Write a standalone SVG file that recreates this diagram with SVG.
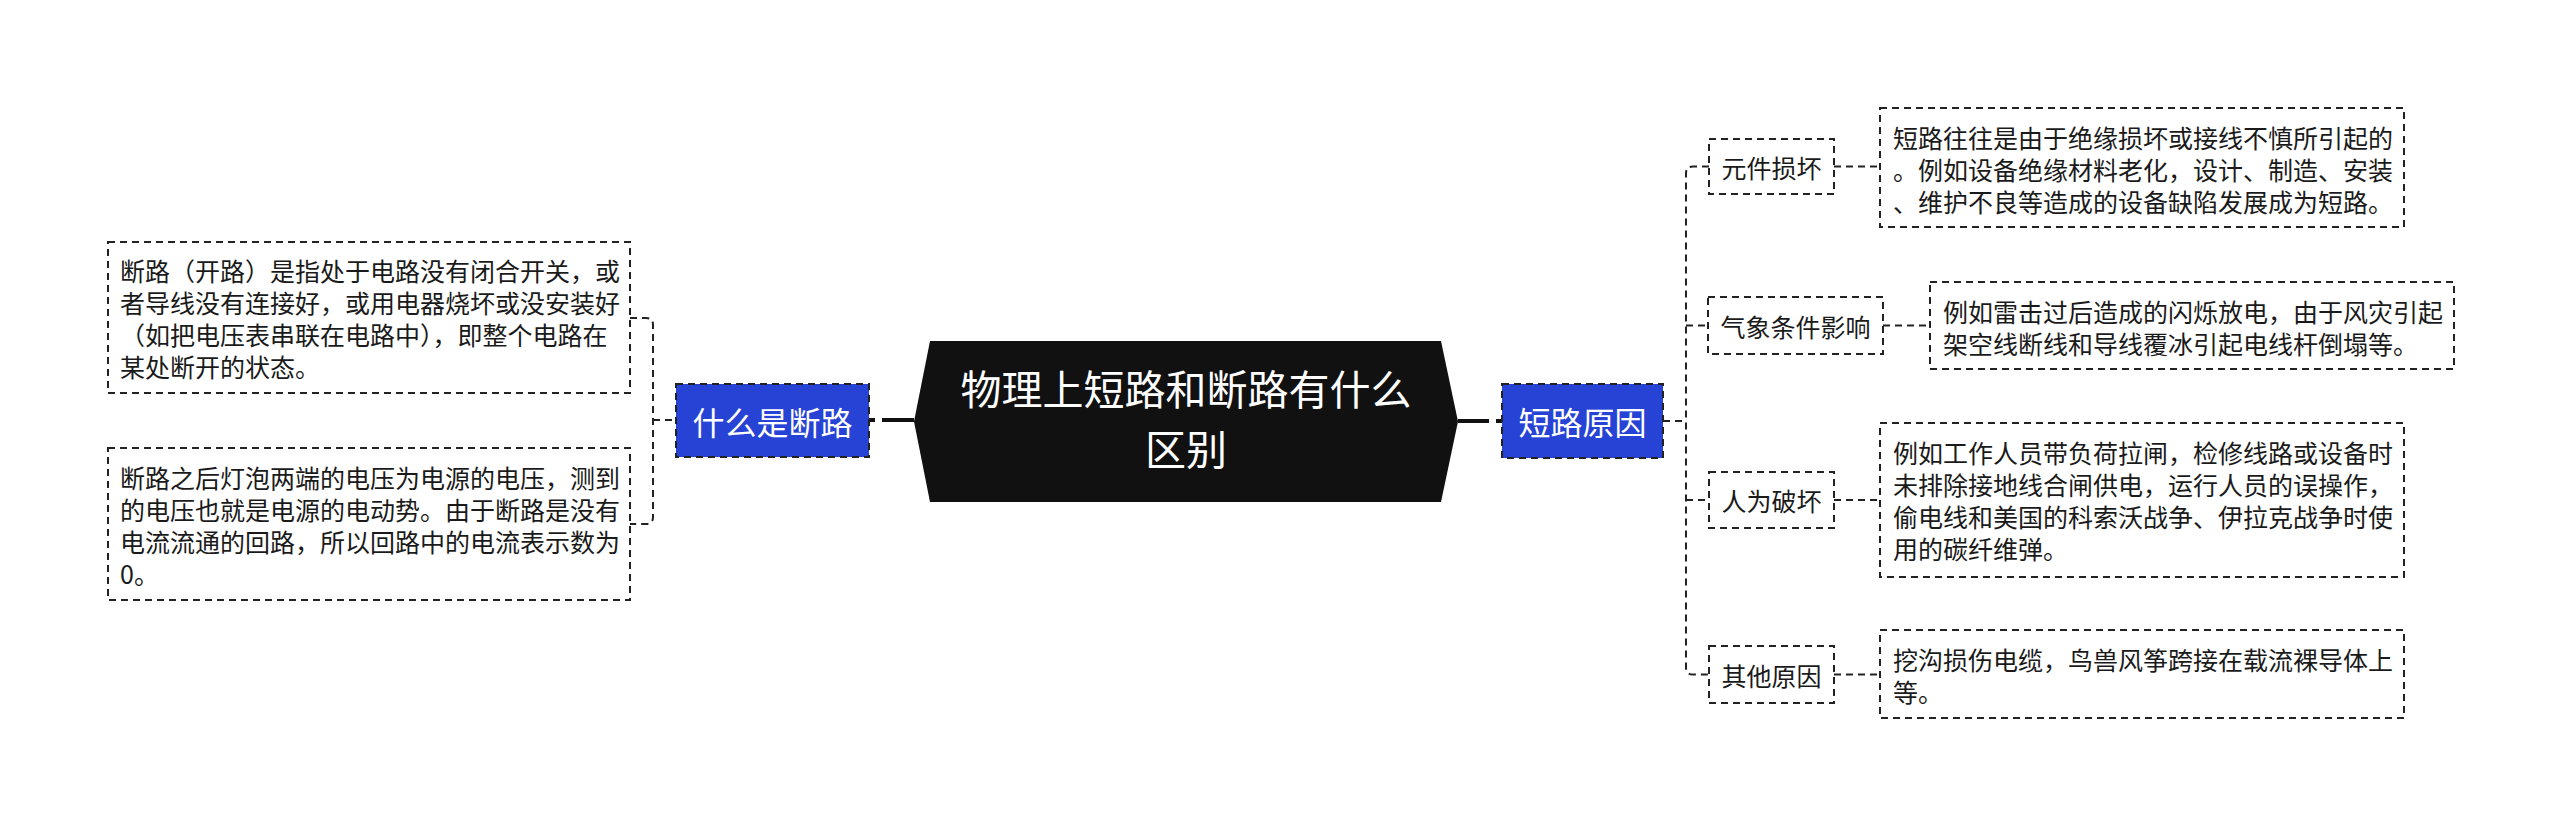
<svg xmlns="http://www.w3.org/2000/svg" width="2560" height="826" viewBox="0 0 2560 826">
<style>
.txt{font-family:"Noto Sans CJK SC","Noto Sans",sans-serif;font-size:25px;fill:#1a1a1a;dominant-baseline:central}
.box{fill:#fff;stroke:#222;stroke-width:2;stroke-dasharray:7 5}
.blue{fill:#2743d6;stroke:#222;stroke-width:2;stroke-dasharray:7 5}
.wt{font-family:"Noto Sans CJK SC","Noto Sans",sans-serif;font-size:32px;fill:#fff;dominant-baseline:central;text-anchor:middle}
.title{font-family:"Noto Sans CJK SC","Noto Sans",sans-serif;font-size:41px;fill:#fff;text-anchor:middle}
.conn{fill:none;stroke:#222;stroke-width:2;stroke-dasharray:7 5}
.thick{fill:none;stroke:#111;stroke-width:4}
.mid{text-anchor:middle}
</style>
<rect width="2560" height="826" fill="#fff"/>
<g id="connectors">
<path class="conn" d="M630 318 H646 Q653 318 653 325 V517 Q653 524 646 524 H630"/>
<path class="conn" d="M653 420 H676"/>
<path class="thick" d="M869 420 H914" stroke-dasharray="6 7 40"/>
<path class="thick" d="M1502 421 H1458" stroke-dasharray="6 7 40"/>
<path class="conn" d="M1663 421 H1686"/>
<path class="conn" d="M1709 166.5 H1693 Q1686 166.5 1686 173.5 V667.5 Q1686 674.5 1693 674.5 H1708"/>
<path class="conn" d="M1686 325.5 H1708"/>
<path class="conn" d="M1686 500 H1708"/>
<path class="conn" d="M1834 166.5 H1880"/>
<path class="conn" d="M1883 325.5 H1930"/>
<path class="conn" d="M1834 500 H1880"/>
<path class="conn" d="M1834 674.5 H1880"/>
</g>
<g id="root">
<polygon points="914,421.5 930,341 1441,341 1458,421.5 1441,502 930,502" fill="#111"/>
<text class="title" x="1186" y="405">物理上短路和断路有什么</text>
<text class="title" x="1186" y="465">区别</text>
</g>
<g id="n-duanlu">
<rect class="blue" x="676" y="384" width="193" height="73"/>
<text class="wt" x="772.5" y="420.5">什么是断路</text>
</g>
<g id="n-duanlu-1">
<rect class="box" x="108" y="242" width="522" height="151"/>
<text class="txt" x="120" y="270">断路（开路）是指处于电路没有闭合开关，或</text>
<text class="txt" x="120" y="302">者导线没有连接好，或用电器烧坏或没安装好</text>
<text class="txt" x="120" y="334">（如把电压表串联在电路中），即整个电路在</text>
<text class="txt" x="120" y="366">某处断开的状态。</text>
</g>
<g id="n-duanlu-2">
<rect class="box" x="108" y="448" width="522" height="152"/>
<text class="txt" x="120" y="477">断路之后灯泡两端的电压为电源的电压，测到</text>
<text class="txt" x="120" y="509">的电压也就是电源的电动势。由于断路是没有</text>
<text class="txt" x="120" y="541">电流流通的回路，所以回路中的电流表示数为</text>
<text class="txt" x="120" y="573">0。</text>
</g>
<g id="n-duanluyuanyin">
<rect class="blue" x="1502" y="384" width="161" height="74"/>
<text class="wt" x="1582.5" y="421">短路原因</text>
</g>
<g id="n-yuanjian">
<rect class="box" x="1709" y="139" width="125" height="55"/>
<text class="txt mid" x="1771.5" y="166.5">元件损坏</text>
</g>
<g id="n-yuanjian-t">
<rect class="box" x="1880" y="108" width="524" height="119"/>
<text class="txt" x="1893" y="137">短路往往是由于绝缘损坏或接线不慎所引起的</text>
<text class="txt" x="1893" y="169">。例如设备绝缘材料老化，设计、制造、安装</text>
<text class="txt" x="1893" y="201">、维护不良等造成的设备缺陷发展成为短路。</text>
</g>
<g id="n-qixiang">
<rect class="box" x="1708" y="297" width="175" height="57"/>
<text class="txt mid" x="1795.5" y="325.5">气象条件影响</text>
</g>
<g id="n-qixiang-t">
<rect class="box" x="1930" y="282" width="524" height="87"/>
<text class="txt" x="1943" y="311">例如雷击过后造成的闪烁放电，由于风灾引起</text>
<text class="txt" x="1943" y="343">架空线断线和导线覆冰引起电线杆倒塌等。</text>
</g>
<g id="n-renwei">
<rect class="box" x="1709" y="472" width="125" height="56"/>
<text class="txt mid" x="1771.5" y="500">人为破坏</text>
</g>
<g id="n-renwei-t">
<rect class="box" x="1880" y="423" width="524" height="154"/>
<text class="txt" x="1893" y="452">例如工作人员带负荷拉闸，检修线路或设备时</text>
<text class="txt" x="1893" y="484">未排除接地线合闸供电，运行人员的误操作，</text>
<text class="txt" x="1893" y="516">偷电线和美国的科索沃战争、伊拉克战争时使</text>
<text class="txt" x="1893" y="548">用的碳纤维弹。</text>
</g>
<g id="n-qita">
<rect class="box" x="1709" y="646" width="125" height="57"/>
<text class="txt mid" x="1771.5" y="674.5">其他原因</text>
</g>
<g id="n-qita-t">
<rect class="box" x="1880" y="630" width="524" height="88"/>
<text class="txt" x="1893" y="659">挖沟损伤电缆，鸟兽风筝跨接在载流裸导体上</text>
<text class="txt" x="1893" y="691">等。</text>
</g>
</svg>
